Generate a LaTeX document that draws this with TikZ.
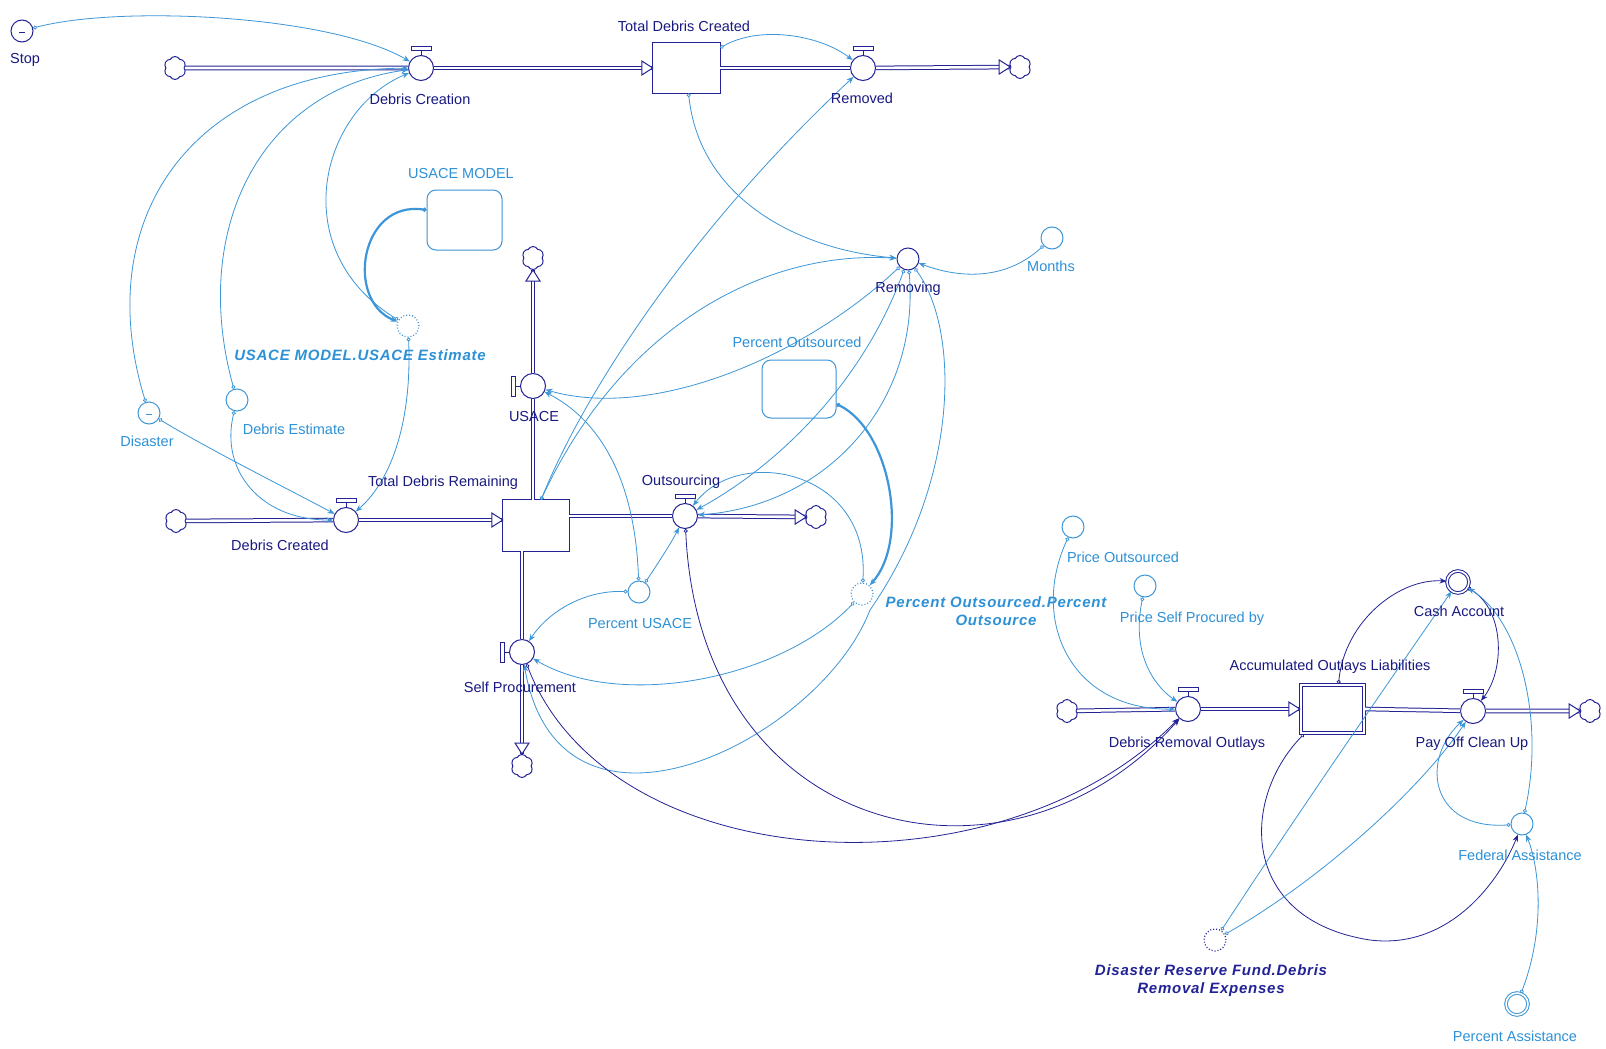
\documentclass[tikz,border=0pt]{standalone}
\usepackage{fontspec}
\setmainfont{Liberation Sans}
\newfontfamily\bfitfont[LetterSpace=5]{Liberation Sans}
\usetikzlibrary{arrows.meta,shapes.symbols,calc}
\definecolor{flow}{RGB}{35,35,150}
\definecolor{conn}{RGB}{60,150,215}
\definecolor{lab}{RGB}{45,145,215}
\definecolor{darklab}{RGB}{25,25,130}
\newcommand\valvetop[1]{\draw[flow,line width=1pt] (#1.north) -- ++(0,-5);
  \draw[flow,line width=0.9pt,fill=white] ($(#1.north)+(-10,-5)$) rectangle ($(#1.north)+(10,-8.5)$);}
\newcommand\valveleft[1]{\draw[flow,line width=1pt] (#1.west) -- ++(-5,0);
  \draw[flow,line width=0.9pt,fill=white] ($(#1.west)+(-5,-10)$) rectangle ($(#1.west)+(-8.5,10)$);}
\newcommand\stockbox[1]{\draw[flow,line width=1.2pt,fill=white] (#1.north west) rectangle (#1.south east);}
\tikzset{
  stocknode/.style={rectangle, draw=none, minimum width=67pt, minimum height=50pt, inner sep=0pt},
  valvec/.style={circle, draw=flow, fill=white, line width=1pt, minimum size=25pt, inner sep=0pt},
  conv/.style={circle, draw=conn, fill=white, line width=1pt, minimum size=22pt, inner sep=0pt},
  dconv/.style={conv, draw=flow},
  ghost/.style={conv, dotted, line width=1.2pt},
  module/.style={rectangle, draw=conn, fill=white, line width=1pt, rounded corners=9pt, inner sep=0pt},
  cloudn/.style={cloud, cloud puffs=6, cloud puff arc=125, aspect=1, draw=flow, fill=white, line width=1pt, minimum width=22pt, minimum height=23pt, inner sep=0pt},
  pipe/.style={draw=flow, line width=1pt, double=white, double distance=2.6pt},
  link/.style={draw=conn, line width=0.8pt, {Circle[open,length=4pt,width=4pt]}-{Stealth[length=7pt,width=5.5pt]}},
  dlink/.style={link, draw=flow},
  lbl/.style={text=darklab, font=\fontsize{14.5}{16}\selectfont, inner sep=1pt},
  clbl/.style={lbl, text=lab},
  bilbl/.style={font=\bfitfont\bfseries\itshape\fontsize{15}{18}\selectfont, text=lab, align=center, inner sep=1pt},
  ptip/.pic={\draw[flow,line width=1pt,fill=white,line join=miter] (0,0) -- (-11,-7) -- (-11,7) -- cycle;}
}
\begin{document}
\begin{tikzpicture}[x=1pt,y=-1pt]
\useasboundingbox (0,0) rectangle (1606,1049);
\fill[white] (0,0) rectangle (1606,1049);

% stocks
\node[stocknode] (tdc) at (686.5,68) {};
\node[stocknode, minimum width=66pt, minimum height=51pt] (tdr) at (536,525.5) {};
\node[stocknode, minimum width=65pt, minimum height=50pt] (aol) at (1332.5,709) {};
\stockbox{tdc}
\stockbox{tdr}
\draw[flow,line width=1.1pt,fill=white] (aol.north west) rectangle (aol.south east);
\draw[flow,line width=1.1pt] ($(aol.north west)+(3,3)$) rectangle ($(aol.south east)+(-3,-3)$);
% valves
\node[valvec] (dc) at (421,68) {};
\node[valvec] (rem) at (863,68) {};
\node[valvec] (dcd) at (346,520) {};
\node[valvec] (usace) at (533,386) {};
\node[valvec] (out) at (685,516) {};
\node[valvec] (sp) at (522,652) {};
\node[valvec] (dro) at (1188,709) {};
\node[valvec] (poc) at (1473,711) {};
\valvetop{dc}\valvetop{rem}\valvetop{dcd}\valvetop{out}\valvetop{dro}\valvetop{poc}
\valveleft{usace}\valveleft{sp}
% clouds
\node[cloudn] (c1) at (175,68) {};
\node[cloudn] (c2) at (1020,67) {};
\node[cloudn] (c3) at (533,258) {};
\node[cloudn] (c4) at (176,521) {};
\node[cloudn] (c5) at (816,517) {};
\node[cloudn] (c6) at (522,766) {};
\node[cloudn] (c7) at (1067,711) {};
\node[cloudn] (c8) at (1590,711) {};
% converters
\node[dconv] (stop) at (22,31) {};
\draw[flow,line width=0.8pt] ($(stop.center)+(-3,1)$) -- ($(stop.center)+(3,1)$);
\node[conv] (disaster) at (149,413) {};
\draw[conn,line width=0.8pt] ($(disaster.center)+(-3,1)$) -- ($(disaster.center)+(3,1)$);
\node[conv] (debest) at (237,400) {};
\node[ghost] (usest) at (408,326) {};
\node[dconv] (removing) at (908,259) {};
\node[conv] (months) at (1052,238) {};
\node[conv] (pusace) at (639,592) {};
\node[ghost] (popo) at (862,594) {};
\node[conv] (pout) at (1073,527) {};
\node[conv] (pself) at (1145,586) {};
\node[dconv, double=white, double distance=1.6pt] (cash) at (1458,582) {};
\node[conv] (fed) at (1522,824) {};
\node[ghost, draw=flow] (drf) at (1215,940) {};
\node[conv, double=white, double distance=1.6pt] (passist) at (1517,1004) {};
% modules
\node[module, minimum width=75pt, minimum height=60pt] (usmodel) at (464.5,220) {};
\node[module, minimum width=74pt, minimum height=58pt] (pomodel) at (799,389) {};

% pipes
\draw[pipe] (c1) -- (dc);
\draw[pipe] (dc) -- (tdc.west);
\draw[pipe] (tdc.east) -- (rem);
\draw[pipe] (rem) -- (c2);
\draw[pipe] (c4) -- (dcd);
\draw[pipe] (dcd) -- (dcd -| tdr.west);
\draw[pipe] (usace |- tdr.north) -- (usace);
\draw[pipe] (usace) -- (c3);
\draw[pipe] (tdr.east |- out) -- (out);
\draw[pipe] (out) -- (c5);
\draw[pipe] (sp |- tdr.south) -- (sp);
\draw[pipe] (sp) -- (c6);
\draw[pipe] (c7) -- (dro);
\draw[pipe] (dro) -- (aol.west);
\draw[pipe] (aol.east) -- (poc);
\draw[pipe] (poc) -- (c8);
\pic at (tdc.west) {ptip};
\pic at (c2.west) {ptip};
\pic[rotate=90] at (c3.south) {ptip};
\pic at (tdr.west |- dcd) {ptip};
\pic at (c5.west) {ptip};
\pic[rotate=-90] at (c6.north) {ptip};
\pic at (aol.west) {ptip};
\pic at (c8.west) {ptip};

% connectors
\draw[link] (stop) .. controls (120,5) and (330,15) .. (dc);
\draw[link] (disaster) .. controls (90,220) and (190,70) .. (dc);
\draw[link] (debest) .. controls (190,230) and (260,90) .. (dc);
\draw[link] (usest) .. controls (285,250) and (320,110) .. (dc);
\draw[link, line width=2.2pt] ([yshift=10pt]usmodel.west) .. controls (360,200) and (345,300) .. (usest);
\draw[link] (usest) .. controls (412,420) and (392,480) .. (dcd);
\draw[link] (disaster) .. controls (210,450) and (290,490) .. (dcd);
\draw[link] (debest) .. controls (220,470) and (260,520) .. (dcd);
\draw[link] ([yshift=-5pt]tdc.north east) .. controls (760,25) and (820,35) .. (rem);
\draw[link] ([xshift=2pt]tdc.south) .. controls (700,200) and (800,250) .. (removing);
\draw[link] ([xshift=5pt]tdr.north) .. controls (590,380) and (700,220) .. (rem);
\draw[link] ([xshift=5pt]tdr.north) .. controls (620,330) and (760,250) .. (removing);
\draw[link] (months) .. controls (1000,285) and (950,275) .. (removing);
\draw[link] (removing) .. controls (800,360) and (650,420) .. (usace);
\draw[link] (removing) .. controls (860,390) and (770,470) .. (out);
\draw[link] (removing) .. controls (920,400) and (830,505) .. (out);
\draw[link] (removing) .. controls (960,330) and (960,480) .. (870,610) .. controls (820,740) and (560,870) .. (sp);
\draw[link] (popo) .. controls (780,680) and (620,710) .. (sp);
\draw[link] (popo) .. controls (870,470) and (740,445) .. (out);
\draw[link, line width=2.2pt] ([yshift=-15pt]pomodel.east) .. controls (890,430) and (910,540) .. (popo);
\draw[link] (pusace) .. controls (660,560) and (670,545) .. (out);
\draw[link] (pusace) .. controls (584,590) and (548,612) .. (sp);
\draw[link] (pusace) .. controls (635,480) and (600,420) .. (usace);
\draw[dlink] (out) .. controls (700,840) and (1010,910) .. (dro);
\draw[dlink] (sp) .. controls (610,880) and (1000,900) .. (dro);
\draw[link] (pout) .. controls (1030,620) and (1070,710) .. (dro);
\draw[link] (pself) .. controls (1130,660) and (1160,690) .. (dro);
\draw[dlink] ([xshift=6pt]aol.north) .. controls (1345,620) and (1400,578) .. (cash);
\draw[dlink] (cash) .. controls (1505,610) and (1505,670) .. (poc);
\draw[dlink] ([xshift=4pt]aol.south west) .. controls (1240,800) and (1240,920) .. (1370,940) .. controls (1450,950) and (1500,880) .. (fed);
\draw[link] (drf) .. controls (1300,810) and (1390,680) .. (cash);
\draw[link] (drf) .. controls (1320,880) and (1420,790) .. (poc);
\draw[link] (fed) .. controls (1430,830) and (1420,760) .. (poc);
\draw[link] (fed) .. controls (1545,720) and (1520,620) .. (cash);
\draw[link] (passist) .. controls (1545,930) and (1540,870) .. (fed);

% labels
\node[lbl] (lstop) at (25,60) {Stop};
\node[lbl] (ldc) at (420,99) {Debris Creation};
\node[lbl] (ltdc) at (684,26) {Total Debris Created};
\node[lbl] (lrem) at (862,98) {Removed};
\node[clbl] (lusmodel) at (461,174) {USACE MODEL};
\node[bilbl] (lusest) at (360,355) {USACE MODEL.USACE Estimate};
\node[lbl] (lusace) at (534,417) {USACE};
\node[lbl] (lremoving) at (908,289) {Removing};
\node[clbl] (lmonths) at (1051,266) {Months};
\node[clbl] (lpomodel) at (797,342) {Percent Outsourced};
\node[clbl] (ldisaster) at (147,441) {Disaster};
\node[clbl] (ldebest) at (294,429) {Debris Estimate};
\node[lbl] (ltdr) at (443,483) {Total Debris Remaining};
\node[lbl] (ldcd) at (280,545) {Debris Created};
\node[lbl] (lout) at (681,482) {Outsourcing};
\node[clbl] (lpusace) at (640,624) {Percent USACE};
\node[lbl] (lsp) at (520,687) {Self Procurement};
\node[bilbl] (lpopo) at (996,611) {Percent Outsourced.Percent\\Outsource};
\node[clbl] (lpout) at (1123,557) {Price Outsourced};
\node[clbl] (lpself) at (1192,619) {Price Self Procured by};
\node[lbl] (ldro) at (1187,744) {Debris Removal Outlays};
\node[lbl] (laol) at (1330,667) {Accumulated Outlays Liabilities};
\node[lbl] (lcash) at (1459,611) {Cash Account};
\node[lbl] (lpoc) at (1472,744) {Pay Off Clean Up};
\node[clbl] (lfed) at (1520,855) {Federal Assistance};
\node[bilbl, text=flow] (ldrf) at (1211,981) {Disaster Reserve Fund.Debris\\Removal Expenses};
\node[clbl] (lpassist) at (1515,1036) {Percent Assistance};
\end{tikzpicture}
\end{document}
